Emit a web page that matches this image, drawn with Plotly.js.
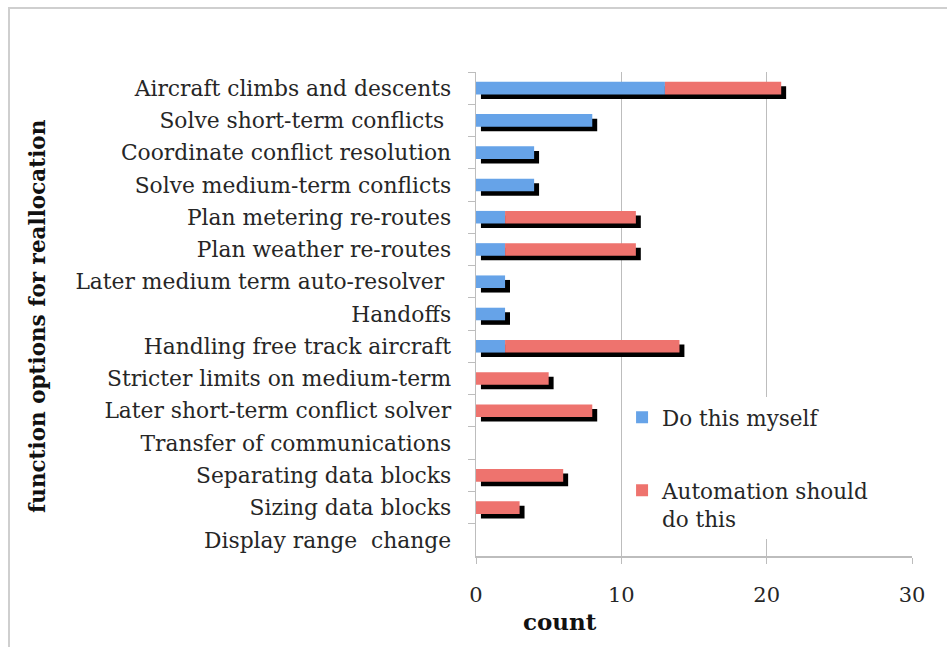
<!DOCTYPE html>
<html><head><meta charset="utf-8">
<script src="https://cdn.plot.ly/plotly-3.0.1.min.js"></script>
<style>
body{margin:0;background:#fff;overflow:hidden}
#frame{position:absolute;left:8px;top:7px;width:939px;height:640px;border-left:2px solid #cfcfcf;border-top:2px solid #cfcfcf;pointer-events:none;box-sizing:border-box}
</style>
</head><body>
<div id="chart" style="width:947px;height:647px"></div>
<div id="frame"></div>
<script>
const categories = [
  "Aircraft climbs and descents",
  "Solve short-term conflicts\u00a0",
  "Coordinate conflict resolution",
  "Solve medium-term conflicts",
  "Plan metering re-routes",
  "Plan weather re-routes",
  "Later medium term auto-resolver\u00a0",
  "Handoffs",
  "Handling free track aircraft",
  "Stricter limits on medium-term",
  "Later short-term conflict solver",
  "Transfer of communications",
  "Separating data blocks",
  "Sizing data blocks",
  "Display range \u00a0change"
];
const doMyself   = [13, 8, 4, 4, 2, 2, 2, 2, 2, 0, 0, 0, 0, 0, 0];
const automation = [ 8, 0, 0, 0, 9, 9, 0, 0,12, 5, 8, 0, 6, 3, 0];
const seriesNames = ["Do this myself", "Automation should<br>do this"];
const xTicks = [0, 10, 20, 30];

const totals = doMyself.map((v, i) => v + automation[i]);

const serif = "DejaVu Serif, serif";
const barW = 0.39;

const traces = [
  { type: "bar", orientation: "h", y: categories, x: totals, base: 0.34,
    width: barW, offset: -barW / 2 + 0.14, marker: { color: "#000000" },
    showlegend: false, hoverinfo: "skip" },
  { type: "bar", orientation: "h", y: categories, x: doMyself, base: 0,
    width: barW, name: seriesNames[0], legendgroup: "a",
    marker: { color: "#66a3e8" } },
  { type: "bar", orientation: "h", y: categories, x: automation, base: doMyself,
    width: barW, name: seriesNames[1], legendgroup: "b",
    marker: { color: "#ee736e" } }
];

const layout = {
  width: 947, height: 647,
  margin: { l: 476, r: 35, t: 72, b: 91, pad: 0 },
  paper_bgcolor: "#ffffff", plot_bgcolor: "#ffffff",
  barmode: "overlay",
  font: { family: serif, color: "#262626", size: 21 },
  xaxis: {
    range: [0, 30], tickvals: xTicks, ticktext: xTicks.map(String),
    showgrid: true, gridcolor: "#bdbdbd", gridwidth: 1.5,
    zeroline: false, showline: true, linecolor: "#bdbdbd", linewidth: 1.5,
    ticks: "outside", ticklen: 6, tickcolor: "#bdbdbd",
    tickfont: { size: 21, family: serif }, ticklabelstandoff: 13,
    fixedrange: true
  },
  yaxis: {
    type: "category", categoryorder: "array", categoryarray: categories,
    range: [categories.length - 0.5, -0.5],
    showgrid: false, zeroline: false, showline: true, linecolor: "#bdbdbd", linewidth: 1.5,
    ticks: "outside", tickson: "boundaries", ticklen: 7, tickcolor: "#bdbdbd",
    tickfont: { size: 21.8, family: serif }, ticklabelstandoff: 19,
    fixedrange: true
  },
  legend: {
    x: 0.335, y: 0.329, xanchor: "left", yanchor: "top",
    bgcolor: "#ffffff", borderwidth: 0,
    traceorder: "grouped", tracegroupgap: 42, valign: "top",
    font: { size: 21.5, family: serif, color: "#262626" }
  },
  annotations: [
    { text: "<b>count</b>", xref: "paper", yref: "paper",
      x: (560 - 476) / 436, y: -(622 - 556) / 484, xanchor: "center", yanchor: "middle",
      showarrow: false, font: { size: 23, family: serif, color: "#111" } },
    { text: "<b>function options for reallocation</b>", xref: "paper", yref: "paper",
      x: (37 - 476) / 436, y: (556 - 316) / 484, xanchor: "center", yanchor: "middle",
      textangle: -90, showarrow: false, font: { size: 21.5, family: serif, color: "#111" } }
  ]
};

Plotly.newPlot("chart", traces, layout, { displayModeBar: false, staticPlot: true });
</script>
</body></html>
